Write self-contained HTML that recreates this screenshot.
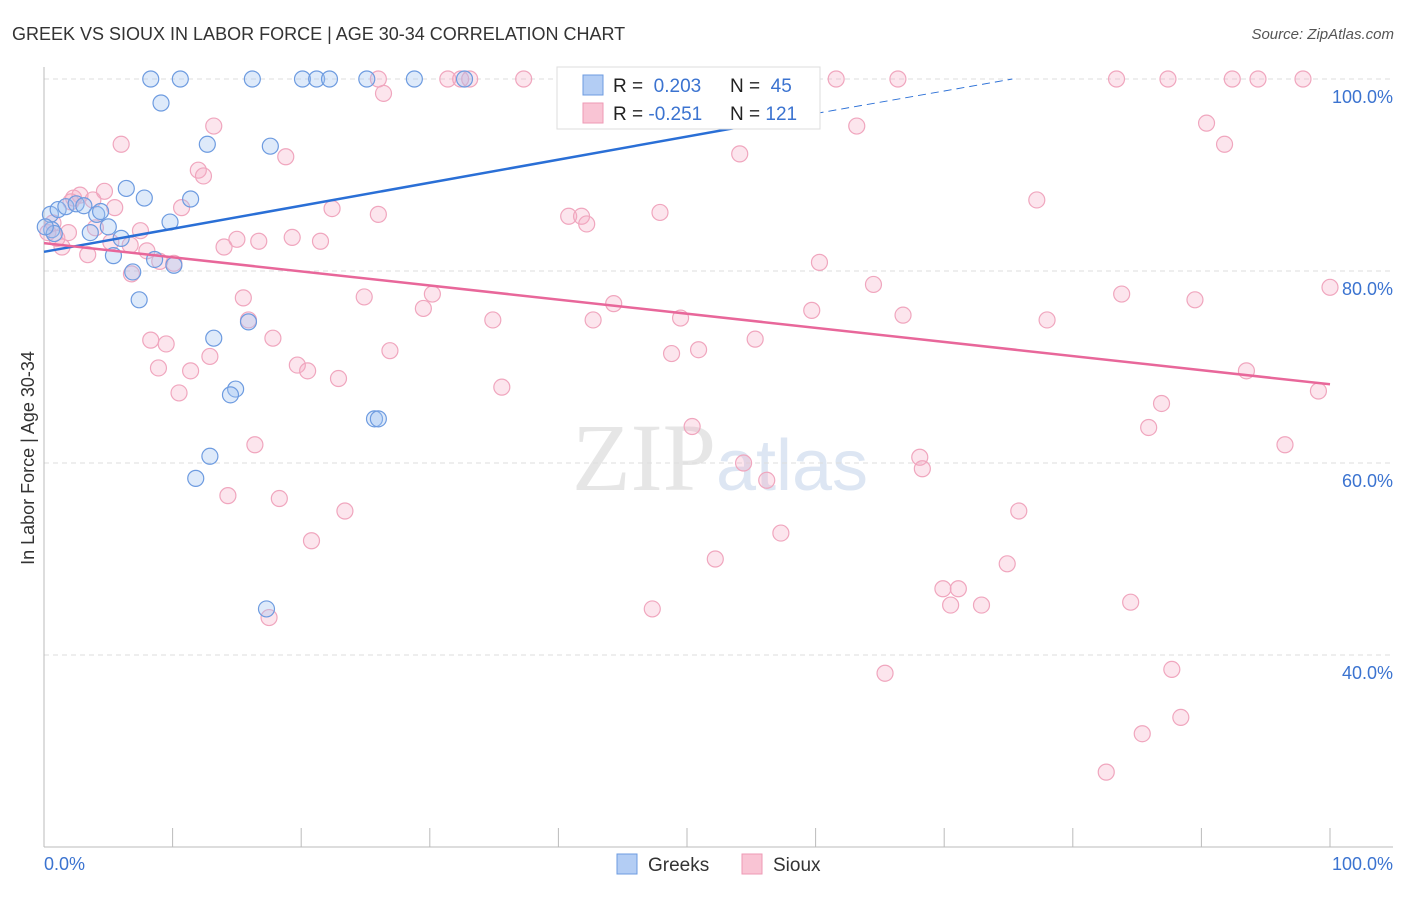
<!DOCTYPE html>
<html><head><meta charset="utf-8"><style>
body{margin:0;background:#fff;font-family:"Liberation Sans",sans-serif;}
</style></head><body>
<svg id="c" width="1406" height="892" xmlns="http://www.w3.org/2000/svg" style="font-family:'Liberation Sans',sans-serif">
<text x="12" y="40" font-size="18" fill="#333">GREEK VS SIOUX IN LABOR FORCE | AGE 30-34 CORRELATION CHART</text>
<text x="1394" y="39" font-size="15" fill="#555" font-style="italic" text-anchor="end">Source: ZipAtlas.com</text>
<text x="720" y="490" font-size="96" fill="#e6e6e6" text-anchor="middle" font-family="Liberation Serif">ZIP<tspan fill="#dde6f3" font-family="Liberation Sans" font-size="72">atlas</tspan></text>
<g id="grid"></g>
<g id="pts"></g>
<g id="lines"></g>
<text transform="translate(34,458) rotate(-90)" font-size="18" fill="#333" text-anchor="middle">In Labor Force | Age 30-34</text>
<text x="44" y="870" font-size="18" fill="#3b73d0">0.0%</text>
<text x="1393" y="870" font-size="18" fill="#3b73d0" text-anchor="end">100.0%</text>
<g>
<rect x="557" y="67" width="263" height="62" fill="#fff" stroke="#ddd"/>
<rect x="583" y="75" width="20" height="20" fill="#b3cdf4" stroke="#6d9be0"/>
<rect x="583" y="103" width="20" height="20" fill="#f9c4d4" stroke="#ee9ab5"/>
<text x="613" y="92" font-size="19" fill="#222">R = <tspan fill="#3b73d0">&#160;0.203</tspan></text>
<text x="730" y="92" font-size="19" fill="#222">N = <tspan fill="#3b73d0">&#160;45</tspan></text>
<text x="613" y="120" font-size="19" fill="#222">R = <tspan fill="#3b73d0">-0.251</tspan></text>
<text x="730" y="120" font-size="19" fill="#222">N = <tspan fill="#3b73d0">121</tspan></text>
</g>
<g>
<rect x="617" y="854" width="20" height="20" fill="#b3cdf4" stroke="#6d9be0"/>
<text x="648" y="871" font-size="19" fill="#333">Greeks</text>
<rect x="742" y="854" width="20" height="20" fill="#f9c4d4" stroke="#ee9ab5"/>
<text x="773" y="871" font-size="19" fill="#333">Sioux</text>
</g>
</svg>
<script>
const yTicks=[100,80,60,40];
const greeks=[[8.3,100],[10.6,100],[16.2,100],[20.1,100],[21.2,100],[22.2,100],[25.1,100],[28.8,100],[32.7,100],[51.6,100],[9.1,97.5],[12.7,93.2],[17.6,93],[6.4,88.6],[7.8,87.6],[11.4,87.5],[9.8,85.1],[0.5,85.9],[1.1,86.4],[1.7,86.7],[2.5,87],[3.1,86.8],[4.1,85.9],[3.6,84],[5,84.6],[6,83.4],[5.4,81.6],[8.6,81.2],[10.1,80.6],[6.9,79.9],[7.4,77],[15.9,74.7],[13.2,73],[14.9,67.7],[14.5,67.1],[25.7,64.6],[26,64.6],[12.9,60.7],[11.8,58.4],[17.3,44.8],[0.6,84.3],[0.8,83.9],[4.4,86.2],[0.1,84.6],[42.6,99.6]];
const sioux=[[26,100],[31.4,100],[32.4,100],[33.1,100],[37.3,100],[46.6,100],[55.7,100],[61.6,100],[66.4,100],[83.4,100],[87.4,100],[92.4,100],[94.4,100],[97.9,100],[26.4,98.5],[13.2,95.1],[6,93.2],[18.8,91.9],[12,90.5],[12.4,89.9],[54.1,92.2],[63.2,95.1],[90.4,95.4],[91.8,93.2],[4.7,88.3],[2.8,87.9],[2.3,87.6],[3.8,87.4],[5.5,86.6],[10.7,86.6],[22.4,86.5],[26,85.9],[40.8,85.7],[41.8,85.7],[42.2,84.9],[47.9,86.1],[77.2,87.4],[1.9,84],[1.4,82.5],[3.4,81.7],[7.5,84.2],[6.7,82.7],[8,82.1],[15,83.3],[16.7,83.1],[19.3,83.5],[21.5,83.1],[14,82.5],[6.8,79.7],[10.1,80.8],[60.3,80.9],[64.5,78.6],[100,78.3],[15.5,77.2],[24.9,77.3],[30.2,77.6],[83.8,77.6],[89.5,77],[29.5,76.1],[44.3,76.6],[15.9,74.9],[34.9,74.9],[42.7,74.9],[49.5,75.1],[59.7,75.9],[66.8,75.4],[78,74.9],[8.3,72.8],[9.5,72.4],[17.8,73],[55.3,72.9],[26.9,71.7],[12.9,71.1],[48.8,71.4],[50.9,71.8],[8.9,69.9],[11.4,69.6],[19.7,70.2],[20.5,69.6],[22.9,68.8],[10.5,67.3],[35.6,67.9],[93.5,69.6],[99.1,67.5],[50.4,63.8],[86.9,66.2],[85.9,63.7],[16.4,61.9],[96.5,61.9],[54.4,60],[68.1,60.6],[68.3,59.4],[56.2,58.2],[14.3,56.6],[18.3,56.3],[23.4,55],[75.8,55],[20.8,51.9],[57.3,52.7],[52.2,50],[74.9,49.5],[69.9,46.9],[71.1,46.9],[70.5,45.2],[72.9,45.2],[84.5,45.5],[47.3,44.8],[17.5,43.9],[65.4,38.1],[87.7,38.5],[88.4,33.5],[85.4,31.8],[82.6,27.8],[1,83.4],[0.3,84],[5.2,83],[0.7,85],[2.1,87.2],[4,84.5],[9,81]];
const greekTrend=[[0,82],[60,96.4],[75.3,100]];
const siouxTrend=[[0,82.9],[100,68.2]];
const NS='http://www.w3.org/2000/svg';
const X=v=>44+v*12.86, Y=v=>79+(100-v)*9.6;
function mk(t,a,p){const e=document.createElementNS(NS,t);for(const k in a)e.setAttribute(k,a[k]);p.appendChild(e);return e;}
const g=document.getElementById('grid');
yTicks.forEach(t=>{
 const l=mk('line',{x1:44,x2:1393,y1:Y(t),y2:Y(t),stroke:'#ddd','stroke-dasharray':'5,4'},g);
 
 
 const tx=mk('text',{x:1393,y:Y(t)+24,'font-size':18,fill:'#3b73d0','text-anchor':'end'},g);
 tx.textContent=t.toFixed(1)+'%';
 
 
});
const ax=mk('line',{x1:44,x2:1393,y1:847,y2:847,stroke:'#bbb'},g);


const ay=mk('line',{x1:44,x2:44,y1:67,y2:847,stroke:'#bbb'},g);


for(let i=0;i<=10;i++){const tk=mk('line',{x1:X(i*10),x2:X(i*10),y1:828,y2:847,stroke:'#bbb'},g);
 
 }
const p=document.getElementById('pts');
sioux.forEach(d=>{const c=mk('circle',{cx:X(d[0]),cy:Y(d[1]),r:8,fill:'rgba(246,170,195,0.3)',stroke:'#f0a6be','stroke-width':1.2},p);
 
 });
greeks.forEach(d=>{const c=mk('circle',{cx:X(d[0]),cy:Y(d[1]),r:8,fill:'rgba(160,195,240,0.35)',stroke:'#6d9be0','stroke-width':1.2},p);
 
 });
const L=document.getElementById('lines');
const b1=mk('line',{x1:X(greekTrend[0][0]),y1:Y(greekTrend[0][1]),x2:X(greekTrend[1][0]),y2:Y(greekTrend[1][1]),stroke:'#2a6fd6','stroke-width':2.5},L);


const b2=mk('line',{x1:X(greekTrend[1][0]),y1:Y(greekTrend[1][1]),x2:X(greekTrend[2][0]),y2:Y(greekTrend[2][1]),stroke:'#2a6fd6','stroke-width':1,'stroke-dasharray':'8,5'},L);


const s1=mk('line',{x1:X(siouxTrend[0][0]),y1:Y(siouxTrend[0][1]),x2:X(siouxTrend[1][0]),y2:Y(siouxTrend[1][1]),stroke:'#e8679a','stroke-width':2.5},L);


</script>
</body></html>
